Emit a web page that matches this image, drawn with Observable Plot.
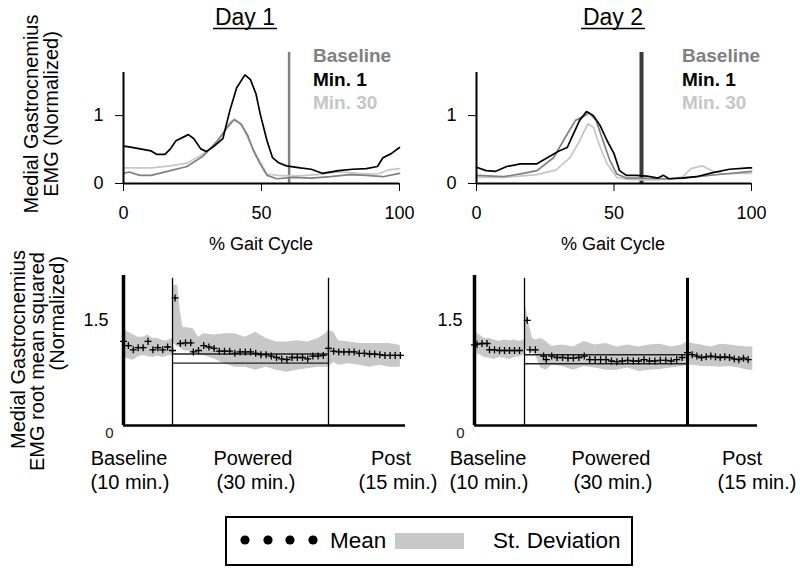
<!DOCTYPE html>
<html><head><meta charset="utf-8">
<script src="https://cdn.jsdelivr.net/npm/d3@7"></script>
<script src="https://cdn.jsdelivr.net/npm/@observablehq/plot@0.6"></script>
<style>
body{margin:0;background:#fff}
#wrap{position:relative;width:800px;height:571px;overflow:hidden;background:#fff;font-family:"Liberation Sans",Arial,sans-serif}
</style></head><body><div id="wrap"></div>
<script>
const FONT = '"Liberation Sans", Arial, sans-serif';

// ---------- Top panels: EMG over gait cycle ----------
const seriesNames = ["Baseline", "Min. 1", "Min. 30"];
const seriesColors = ["#808080", "#000000", "#c6c6c6"];
const gaitTicks = [0, 50, 100];
const emgTicks = [0, 1];
const gaitMarkerPct = 60;

const d1BasePct = [0,2,6,10,17,23,29,34,37.5,40,42.5,45,47,49.5,52,55.5,61.5,68,75,82,88,94,100];
const d1BaseVal = [0.15,0.17,0.12,0.12,0.19,0.25,0.41,0.63,0.82,0.94,0.88,0.71,0.49,0.29,0.12,0.07,0.09,0.08,0.10,0.13,0.12,0.10,0.15];
const d1Min1Pct = [0,2,10,12,15,17,19,23.5,25.5,28,30,32.5,36,38.5,41,44,46,48,49.5,52,54,56,59,64,68,72,78,83,88,92,94,97,100];
const d1Min1Val = [0.55,0.54,0.48,0.43,0.43,0.51,0.63,0.72,0.66,0.51,0.47,0.54,0.66,1.07,1.41,1.60,1.53,1.32,1.03,0.63,0.38,0.31,0.26,0.23,0.21,0.15,0.19,0.21,0.22,0.25,0.38,0.44,0.53];
const d1Min30Pct = [0,10,17,23,29,34,38.5,40.5,43,45.5,48.5,52,56,62,70,78,85,92,96,100];
const d1Min30Val = [0.23,0.23,0.26,0.30,0.44,0.60,0.90,0.95,0.85,0.63,0.39,0.14,0.12,0.11,0.13,0.17,0.15,0.14,0.20,0.22];

const d2BasePct = [0,10,17,22,28,33,36,39.5,41,43.5,46,48.5,51,54.5,60,70,80,90,100];
const d2BaseVal = [0.12,0.10,0.15,0.19,0.38,0.73,0.93,1.00,1.04,0.93,0.63,0.34,0.14,0.08,0.08,0.07,0.10,0.14,0.18];
const d2Min1Pct = [0,3.5,7,11,16,22,24,27,30,33,35,37.5,40,42.5,45,47.5,50,52,54.5,58,62,66,68,70,75,80,86,92,99,100];
const d2Min1Val = [0.24,0.19,0.18,0.25,0.29,0.29,0.34,0.41,0.48,0.53,0.71,0.93,1.06,1.00,0.85,0.63,0.44,0.19,0.12,0.12,0.11,0.08,0.12,0.07,0.08,0.10,0.16,0.21,0.23,0.23];
const d2Min30Pct = [0,10,22,29,34,37.5,40.5,42.5,45,47.5,51,55,62,70,75,78,82,86,90,95,100];
const d2Min30Val = [0.09,0.09,0.13,0.20,0.38,0.63,0.88,0.83,0.53,0.29,0.09,0.06,0.05,0.06,0.10,0.22,0.26,0.18,0.14,0.15,0.15];

// ---------- Bottom panels: RMS over session ----------
const phaseBounds = [0, 10, 40, 55];          // minutes: baseline | powered | post
const d1PhaseDisplay = [0, 9.56, 39.98, 55];  // drawn widths of the phases (left panel)
const d2PhaseDisplay = [0, 9.72, 41.4, 55];   // drawn widths of the phases (right panel)
const rmsTicks = [1.5];

const d1Minute = [0,1,2,3,4,5,6,7,8,9,10, 10.5,11.5,12.5,13.5,14,15,16,17,18,19,20,21,22,23,24,25,26,27,28,29,30,31,32,33,34,35,36,37,38,39, 40,41,42,43,44,45,46,47,48,49,50,51,52,53,54];
const d1Mean = [1.20,1.14,1.08,1.11,1.11,1.20,1.08,1.11,1.08,1.12,1.07, 1.82,1.17,1.18,1.18,1.05,1.07,1.14,1.12,1.10,1.06,1.06,1.06,1.03,1.05,1.05,1.05,1.03,1.01,1.01,0.99,0.97,0.95,0.94,0.97,0.97,0.97,0.95,0.99,0.99,1.00, 1.10,1.06,1.05,1.05,1.05,1.05,1.03,1.03,1.02,1.02,1.01,1.00,1.00,1.00,1.00];
const d1SdMinute = [0,1,2,3,4,5,6,7,8,9,10, 10.2,11,11.5,12,14,15,16,18,20,22,24,26,28,30,32,34,36,38,39.5, 40,41,42,44,46,48,50,52,54];
const d1SdHi = [1.38,1.33,1.29,1.26,1.26,1.29,1.24,1.24,1.21,1.21,1.24, 2.0,2.0,1.64,1.40,1.38,1.26,1.31,1.29,1.31,1.31,1.26,1.33,1.24,1.19,1.19,1.21,1.19,1.24,1.31, 1.36,1.33,1.21,1.19,1.17,1.17,1.17,1.17,1.14];
const d1SdLo = [0.98,0.95,0.93,0.98,1.00,0.98,0.97,0.99,0.97,0.99,1.00, 1.17,1.12,1.12,1.07,1.05,1.02,1.00,0.95,0.88,0.83,0.83,0.79,0.83,0.79,0.76,0.79,0.81,0.83,0.83, 0.83,0.90,0.86,0.88,0.86,0.83,0.86,0.83,0.83];
const d1RefLines = [1.02, 0.89];

const d2Minute = [0,0.5,1.5,2.5,3,4,5,6,7,8,9, 10.5,11,12,13.5,14,15, 16,17,18,19,20,21,22,23,24,25,26,27,28,29,30,31,32,33,34,35,36,37,38,39, 40,41,42,43,44,45,46,47,48,49,50,51,52,53];
const d2Mean = [1.15,1.16,1.17,1.17,1.08,1.08,1.07,1.07,1.07,1.07,1.07, 1.50,1.08,1.08,0.99,0.94,0.99, 0.97,0.97,0.96,0.96,0.97,0.99,0.94,0.94,0.94,0.94,0.92,0.91,0.92,0.93,0.92,0.92,0.94,0.92,0.92,0.93,0.93,0.92,0.94,0.97, 1.04,1.01,0.99,0.97,0.98,0.99,0.98,0.97,0.98,0.97,0.95,0.94,0.96,0.94];
const d2SdMinute = [0,1,2,3,4,5,6,7,8,9,10, 10.2,10.8,11.5,12,13,14,15,17,19,21,23,25,27,29,31,33,35,37,39, 40,41,43,45,47,49,51,53,54];
const d2SdHi = [1.34,1.29,1.24,1.24,1.22,1.20,1.22,1.21,1.22,1.20,1.22, 1.70,1.46,1.24,1.22,1.24,1.20,1.13,1.15,1.12,1.20,1.15,1.17,1.12,1.15,1.12,1.15,1.16,1.12,1.15, 1.20,1.17,1.15,1.12,1.16,1.15,1.13,1.12,1.12];
const d2SdLo = [1.03,1.01,0.97,0.96,0.94,0.97,0.96,0.94,0.97,0.98,1.01, 1.08,1.08,1.03,1.01,0.82,0.79,0.86,0.84,0.79,0.84,0.82,0.79,0.79,0.82,0.77,0.79,0.80,0.82,0.84, 0.86,0.86,0.84,0.84,0.83,0.84,0.82,0.79,0.79];
const d2RefLines = [1.01, 0.88];

// ---------- helpers ----------
const wrap = document.getElementById("wrap");
function place(svg, left, top) {
  svg.style.position = "absolute";
  svg.style.left = left + "px";
  svg.style.top = top + "px";
  svg.style.background = "transparent";
  svg.style.overflow = "visible";
  svg.style.maxWidth = "none";
  wrap.appendChild(svg);
}
const rows = (pct, val, name) => pct.map((p, i) => ({pct: p, v: val[i], name}));

function gaitPlot(curves, mRight, vColor, vWidth) {
  const order = [2, 0, 1];
  return Plot.plot({
    width: 320, height: 190,
    marginLeft: 33, marginRight: mRight, marginTop: 12, marginBottom: 47,
    style: {fontFamily: FONT, fontSize: "18px", background: "transparent", color: "black"},
    x: {domain: [0, 100], ticks: gaitTicks, tickSize: 8, tickPadding: 15, label: null, axis: "bottom"},
    y: {domain: [0, 1.93], ticks: emgTicks, tickSize: 8, tickPadding: 12, label: null, axis: "left", tickFormat: d => String(d)},
    marks: [
      Plot.ruleX([gaitMarkerPct], {y1: 0, y2: 1.93, stroke: vColor, strokeWidth: vWidth}),
      ...order.map(k => Plot.line(rows(curves[k][0], curves[k][1], seriesNames[k]),
        {x: "pct", y: "v", stroke: seriesColors[k], strokeWidth: 1.7})),
      Plot.ruleY([0], {x1: 0, x2: 100, stroke: "black", strokeWidth: 2}),
      Plot.ruleX([0], {y1: 0, y2: 1.635, stroke: "black", strokeWidth: 2})
    ]
  });
}

function rmsPlot(minute, mean, sdMin, hi, lo, refs, display, mLeft, mRight, vWidths, tickPad) {
  const meanData = minute.map((m, i) => ({m, v: mean[i]}));
  const sdData = sdMin.map((m, i) => ({m, hi: hi[i], lo: lo[i]}));
  const warp = d3.scaleLinear().domain(phaseBounds).range(display);
  return Plot.plot({
    width: 330, height: 180,
    marginLeft: mLeft, marginRight: mRight, marginTop: 10, marginBottom: 20,
    style: {fontFamily: FONT, fontSize: "18px", background: "transparent", color: "black"},
    x: {domain: [0, 55], transform: warp, axis: null},
    y: {domain: [0, 2.14], ticks: rmsTicks, tickSize: 0, tickPadding: tickPad, label: null, axis: "left", tickFormat: d => d.toFixed(1)},
    marks: [
      Plot.areaY(sdData, {x: "m", y1: "lo", y2: "hi", fill: "#c8c8c8"}),
      Plot.ruleY(refs, {x1: phaseBounds[1], x2: phaseBounds[2], stroke: "#222", strokeWidth: 1.4}),
      Plot.ruleX([phaseBounds[1]], {y1: 0, y2: 2.1, stroke: "black", strokeWidth: vWidths[0]}),
      Plot.ruleX([phaseBounds[2]], {y1: 0, y2: 2.1, stroke: "black", strokeWidth: vWidths[1]}),
      Plot.dot(meanData, {x: "m", y: "v", symbol: "plus", r: 2.4, stroke: "black", strokeWidth: 1.3}),
      Plot.dot(meanData, {x: "m", y: "v", r: 1.1, fill: "black"}),
      Plot.ruleY([0], {x1: 0, x2: phaseBounds[3], stroke: "black", strokeWidth: 2.5}),
      Plot.ruleX([0], {y1: 0, y2: 2.14, stroke: "black", strokeWidth: 3.5}),
      Plot.text([{x: 0, y: 0, t: "0"}], {x: "x", y: "y", text: "t", dx: -10, dy: 8, textAnchor: "end", fontSize: 15, fill: "#222"})
    ]
  });
}

place(gaitPlot([[d1BasePct, d1BaseVal], [d1Min1Pct, d1Min1Val], [d1Min30Pct, d1Min30Val]], 11, "#808080", 2.5), 90, 40);
place(gaitPlot([[d2BasePct, d2BaseVal], [d2Min1Pct, d2Min1Val], [d2Min30Pct, d2Min30Val]], 12, "#3a3a3a", 4), 443, 40);
place(rmsPlot(d1Minute, d1Mean, d1SdMinute, d1SdHi, d1SdLo, d1RefLines, d1PhaseDisplay, 33, 15, [1.3, 1.3], 15), 90, 265);
place(rmsPlot(d2Minute, d2Mean, d2SdMinute, d2SdHi, d2SdLo, d2RefLines, d2PhaseDisplay, 34, 13, [1.3, 3], 12), 440, 265);

// ---------- text overlay ----------
const ns = "http://www.w3.org/2000/svg";
const ov = document.createElementNS(ns, "svg");
ov.setAttribute("width", 800); ov.setAttribute("height", 571);
ov.style.position = "absolute"; ov.style.left = "0"; ov.style.top = "0";
ov.style.fontFamily = FONT;
let s = "";
const T = (x, y, str, opt = "") => { s += `<text x="${x}" y="${y}" ${opt}>${str}</text>`; };
// titles
T(245, 25, "Day 1", 'font-size="23" text-anchor="middle"');
s += '<line x1="213" x2="277" y1="28.5" y2="28.5" stroke="black" stroke-width="1.5"/>';
T(613, 25, "Day 2", 'font-size="23" text-anchor="middle"');
s += '<line x1="581" x2="645" y1="28.5" y2="28.5" stroke="black" stroke-width="1.5"/>';
// legends in top panels
[313, 682].forEach(lx => {
  seriesNames.forEach((n, i) => T(lx, 62 + i * 23.5, n, `font-size="19" font-weight="bold" fill="${seriesColors[i]}"`));
});
// x titles top
T(261, 250, "% Gait Cycle", 'font-size="18" text-anchor="middle"');
T(613, 250, "% Gait Cycle", 'font-size="18" text-anchor="middle"');
// y titles
const R = (x, y, str, anchor) => { s += `<text transform="translate(${x},${y}) rotate(-90)" font-size="20" text-anchor="${anchor}">${str}</text>`; };
R(38, 114, "Medial Gastrocnemius", "middle");
R(58, 114, "EMG (Normalized)", "middle");
R(25, 250, "Medial Gastrocnemius", "end");
R(44, 252, "EMG root mean squared", "end");
R(64, 256, "(Normalized)", "end");
// phase labels
const phase = [["Baseline", "(10 min.)", 129, 130], ["Powered", "(30 min.)", 253, 256], ["Post", "(15 min.)", 391, 398],
               ["Baseline", "(10 min.)", 488, 489], ["Powered", "(30 min.)", 611, 613], ["Post", "(15 min.)", 742, 757]];
phase.forEach(([a, b, x1, x2]) => { T(x1, 465, a, 'font-size="20" text-anchor="middle"'); T(x2, 489, b, 'font-size="20" text-anchor="middle"'); });
// bottom legend box
s += '<rect x="226" y="517" width="406" height="48" fill="white" stroke="black" stroke-width="2"/>';
[245, 268, 290, 313].forEach(cx => { s += `<circle cx="${cx}" cy="540" r="4.6" fill="black"/>`; });
T(330, 548, "Mean", 'font-size="22.5"');
s += '<rect x="395" y="533" width="69" height="16" fill="#c8c8c8"/>';
T(493, 548, "St. Deviation", 'font-size="22.5"');
ov.innerHTML = s;
wrap.appendChild(ov);
</script>
</body></html>
